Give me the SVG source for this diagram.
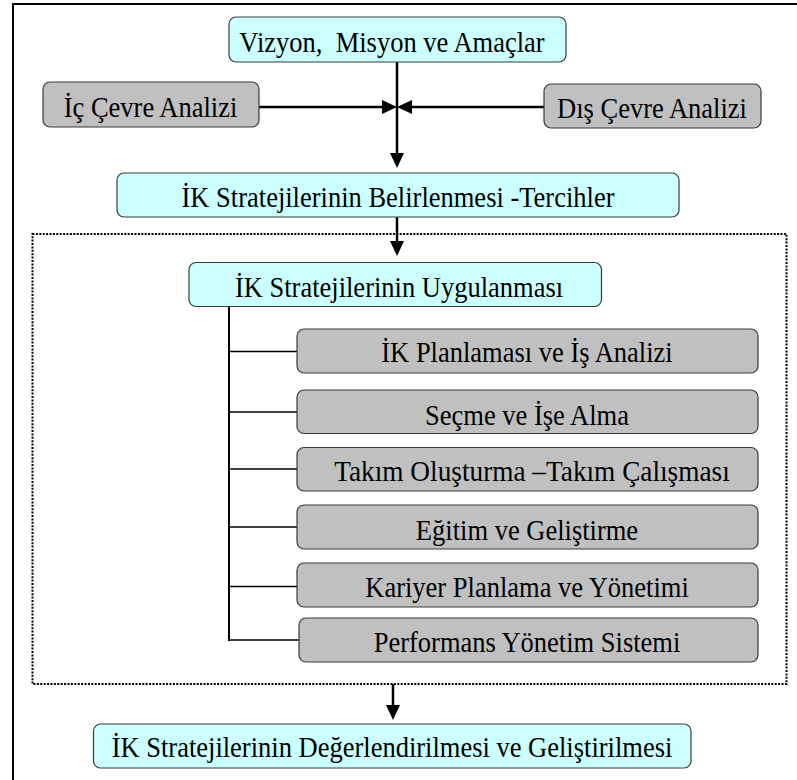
<svg xmlns="http://www.w3.org/2000/svg" width="797" height="780" viewBox="0 0 797 780">
  <style>
    .txt { font-family: 'Liberation Serif', 'Times New Roman', serif; font-size: 26.5px; fill: #000; text-anchor: middle; white-space: pre; }
    .cyan { fill: #CCFFFF; stroke: #3a3a3a; stroke-width: 1.2; }
    .gray { fill: #C0C0C0; stroke: #3a3a3a; stroke-width: 1.2; }
    .flow { stroke: #000; stroke-width: 2.5; fill: none; }
    .trunk { stroke: #000; stroke-width: 2; fill: none; }
    .branch { stroke: #000; stroke-width: 1.6; fill: none; }
    .frame { stroke: #000; stroke-width: 2; fill: none; }
    .dotted { stroke: #000; stroke-width: 2; fill: none; stroke-dasharray: 2 1.4; }
  </style>
  <defs>
    <marker id="head" markerUnits="userSpaceOnUse" markerWidth="16" markerHeight="16" refX="11" refY="7" orient="auto">
      <path d="M0,0 L15,7 L0,14 z" fill="#000"/>
    </marker>
  </defs>

  <rect width="797" height="780" fill="#fff"/>

  <!-- page frame (open to the right and bottom) -->
  <path class="frame" d="M13,782 V4 H800"/>

  <!-- implementation area -->
  <rect id="implementation-area" class="dotted" x="32.5" y="234" width="754" height="450"/>

  <g id="connectors">
    <line class="flow" x1="397" y1="62" x2="397" y2="164" marker-end="url(#head)"/>
    <line class="flow" x1="259" y1="107" x2="393" y2="107" marker-end="url(#head)"/>
    <line class="flow" x1="544" y1="107" x2="401" y2="107" marker-end="url(#head)"/>
    <line class="flow" x1="397" y1="217" x2="397" y2="252" marker-end="url(#head)"/>
    <line class="flow" x1="393" y1="684" x2="393" y2="716" marker-end="url(#head)"/>
    <line class="trunk" x1="229" y1="307" x2="229" y2="641"/>
    <line class="branch" x1="229" y1="351.5" x2="297" y2="351.5"/>
    <line class="branch" x1="229" y1="412" x2="297" y2="412"/>
    <line class="branch" x1="229" y1="469" x2="297" y2="469"/>
    <line class="branch" x1="229" y1="527" x2="297" y2="527"/>
    <line class="branch" x1="229" y1="586.5" x2="297" y2="586.5"/>
    <line class="branch" x1="229" y1="640" x2="299" y2="640"/>
  </g>

  <!-- labels are set on their baseline and stretched slightly upward -->
  <g id="vizyon">
    <rect class="cyan" x="229" y="17" width="337" height="45" rx="7"/>
    <text class="txt" xml:space="preserve" transform="translate(392 52) scale(1 1.08)">Vizyon,  Misyon ve Amaçlar</text>
  </g>

  <g id="ic-cevre">
    <rect class="gray" x="43" y="82" width="216" height="45" rx="7"/>
    <text class="txt" transform="translate(150.5 117) scale(1 1.08)">İç Çevre Analizi</text>
  </g>

  <g id="dis-cevre">
    <rect class="gray" x="544" y="84" width="217" height="44" rx="7"/>
    <text class="txt" transform="translate(652 118) scale(1 1.08)">Dış Çevre Analizi</text>
  </g>

  <g id="belirlenmesi">
    <rect class="cyan" x="117" y="173" width="562" height="44" rx="7"/>
    <text class="txt" transform="translate(398 206.5) scale(1 1.08)">İK Stratejilerinin Belirlenmesi -Tercihler</text>
  </g>

  <g id="uygulanmasi">
    <rect class="cyan" x="189" y="262.5" width="412.5" height="44" rx="7"/>
    <text class="txt" transform="translate(399 296.5) scale(1 1.08)">İK Stratejilerinin Uygulanması</text>
  </g>

  <g id="planlama">
    <rect class="gray" x="297" y="329" width="461" height="44" rx="7"/>
    <text class="txt" transform="translate(527 361.5) scale(1 1.08)">İK Planlaması ve İş Analizi</text>
  </g>

  <g id="secme">
    <rect class="gray" x="297" y="390" width="461" height="43.5" rx="7"/>
    <text class="txt" transform="translate(527 425) scale(1 1.08)">Seçme ve İşe Alma</text>
  </g>

  <g id="takim">
    <rect class="gray" x="297" y="447.5" width="461" height="43.5" rx="7"/>
    <text class="txt" transform="translate(532 481) scale(1.03 1.08)">Takım Oluşturma –Takım Çalışması</text>
  </g>

  <g id="egitim">
    <rect class="gray" x="297" y="505" width="461" height="44" rx="7"/>
    <text class="txt" transform="translate(527 540) scale(1 1.08)">Eğitim ve Geliştirme</text>
  </g>

  <g id="kariyer">
    <rect class="gray" x="297" y="563" width="461" height="44" rx="7"/>
    <text class="txt" transform="translate(527 596.5) scale(1 1.08)">Kariyer Planlama ve Yönetimi</text>
  </g>

  <g id="performans">
    <rect class="gray" x="299" y="618" width="459" height="44" rx="7"/>
    <text class="txt" transform="translate(527 651.5) scale(1 1.08)">Performans Yönetim Sistemi</text>
  </g>

  <g id="degerlendirme">
    <rect class="cyan" x="93.5" y="724" width="597.5" height="44" rx="7"/>
    <text class="txt" transform="translate(392 756.5) scale(1 1.08)">İK Stratejilerinin Değerlendirilmesi ve Geliştirilmesi</text>
  </g>
</svg>
